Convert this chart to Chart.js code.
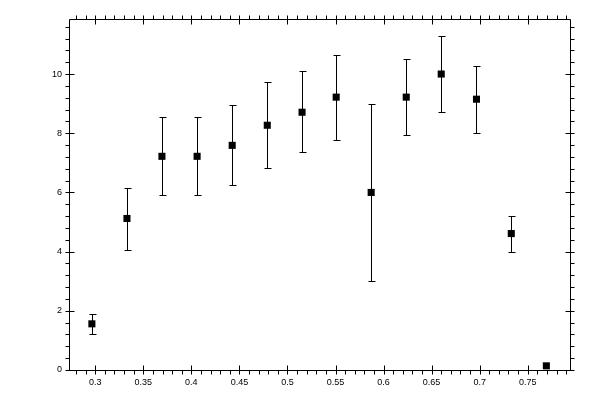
<!DOCTYPE html>
<html>
<head>
<meta charset="utf-8">
<script src="https://cdn.jsdelivr.net/npm/chart.js@4"></script>
<style>
html,body{margin:0;padding:0;background:#fff;}
canvas{display:block;}
</style>
</head>
<body>
<canvas id="c" width="600" height="400"></canvas>
<script>
// ---- data ----
const xValues = [0.2965, 0.333, 0.3694, 0.406, 0.4425, 0.479, 0.5152, 0.5507, 0.5871, 0.6236, 0.66, 0.6967, 0.7329, 0.7694];
const yValues = [1.56, 5.12, 7.22, 7.22, 7.59, 8.27, 8.71, 9.22, 6.00, 9.22, 10.00, 9.15, 4.61, 0.14];
const yUpper  = [1.89, 6.14, 8.54, 8.54, 8.95, 9.74, 10.10, 10.64, 8.98, 10.50, 11.28, 10.27, 5.22, 0.14];
const yLower  = [1.22, 4.07, 5.90, 5.90, 6.25, 6.81, 7.36, 7.76, 3.00, 7.93, 8.71, 8.00, 4.00, 0.14];

// ---- axes ----
const xMajorTicks = [0.3, 0.35, 0.4, 0.45, 0.5, 0.55, 0.6, 0.65, 0.7, 0.75];
const xTickLabels = ['0.3', '0.35', '0.4', '0.45', '0.5', '0.55', '0.6', '0.65', '0.7', '0.75'];
const yMajorTicks = [0, 2, 4, 6, 8, 10];
const yTickLabels = ['0', '2', '4', '6', '8', '10'];
const xRange = [0.2727, 0.794];
const yRange = [0, 11.86];
const xMinorStep = 0.01;
const yMinorStep = 0.4;

function buildTicks(min, max, step, majors) {
  const out = [];
  const n0 = Math.ceil(min / step - 1e-9), n1 = Math.floor(max / step + 1e-9);
  for (let i = n0; i <= n1; i++) {
    const v = +(i * step).toFixed(4);
    const isMajor = majors.some(m => Math.abs(m - v) < 1e-6);
    out.push({ value: v, major: isMajor });
  }
  return out;
}

const pts = xValues.map((x, i) => ({ x: x, y: yValues[i] }));

const frameTicks = {
  id: 'frameTicks',
  afterDraw(chart) {
    const ctx = chart.ctx;
    const a = chart.chartArea;
    const xs = chart.scales.x, ys = chart.scales.y;
    const L = Math.round(a.left) + 0.5, R = Math.round(a.right) + 0.5;
    const T = Math.round(a.top) + 0.5, B = Math.round(a.bottom) + 0.5;
    ctx.save();
    ctx.strokeStyle = '#000';
    ctx.lineWidth = 1;
    ctx.beginPath();
    ctx.rect(L, T, R - L, B - T);
    ctx.stroke();
    ctx.beginPath();
    xs.ticks.forEach(t => {
      const px = Math.round(xs.getPixelForValue(t.value)) + 0.5;
      const major = xMajorTicks.some(m => Math.abs(m - t.value) < 1e-6);
      // bottom
      ctx.moveTo(px, B + 4); ctx.lineTo(px, major ? B - 5 : B);
      // top
      ctx.moveTo(px, T - 4); ctx.lineTo(px, major ? T + 5 : T);
    });
    ys.ticks.forEach(t => {
      const py = Math.round(ys.getPixelForValue(t.value)) + 0.5;
      const major = yMajorTicks.some(m => Math.abs(m - t.value) < 1e-6);
      ctx.moveTo(L - 4, py); ctx.lineTo(major ? L + 5 : L, py);
      ctx.moveTo(R + 4, py); ctx.lineTo(major ? R - 5 : R, py);
    });
    ctx.stroke();
    ctx.restore();
  }
};

const errorBars = {
  id: 'errorBars',
  beforeDatasetsDraw(chart) {
    const ctx = chart.ctx;
    const xs = chart.scales.x, ys = chart.scales.y;
    ctx.save();
    ctx.strokeStyle = '#000';
    ctx.lineWidth = 1;
    ctx.beginPath();
    xValues.forEach((x, i) => {
      if (yUpper[i] === yLower[i]) return;
      const px = Math.round(xs.getPixelForValue(x)) + 0.5;
      const pu = Math.round(ys.getPixelForValue(yUpper[i])) + 0.5;
      const pl = Math.round(ys.getPixelForValue(yLower[i])) + 0.5;
      ctx.moveTo(px, pu); ctx.lineTo(px, pl);
      ctx.moveTo(px - 3, pu); ctx.lineTo(px + 4, pu);
      ctx.moveTo(px - 3, pl); ctx.lineTo(px + 4, pl);
    });
    ctx.stroke();
    ctx.restore();
  }
};

new Chart(document.getElementById('c'), {
  type: 'scatter',
  data: {
    datasets: [{
      data: pts,
      pointStyle: 'rect',
      pointRadius: 5,
      pointHoverRadius: 5,
      backgroundColor: '#000',
      borderColor: '#000',
      borderWidth: 0,
      showLine: false
    }]
  },
  options: {
    responsive: false,
    devicePixelRatio: 1,
    animation: false,
    events: [],
    layout: { padding: { top: 19, right: 30, left: 0, bottom: 0 } },
    plugins: { legend: { display: false }, tooltip: { enabled: false } },
    scales: {
      x: {
        type: 'linear',
        min: xRange[0], max: xRange[1],
        afterBuildTicks(s) { s.ticks = buildTicks(xRange[0], xRange[1], xMinorStep, xMajorTicks); },
        afterFit(s) { s.height = 30; },
        grid: { display: false, drawTicks: false },
        border: { display: false },
        ticks: {
          autoSkip: false, maxRotation: 0, padding: 7, color: '#000',
          font: { family: 'Liberation Sans', size: 9 },
          callback(v) {
            const k = xMajorTicks.findIndex(m => Math.abs(m - v) < 1e-6);
            return k >= 0 ? xTickLabels[k] : '';
          }
        }
      },
      y: {
        type: 'linear',
        min: yRange[0], max: yRange[1],
        afterBuildTicks(s) { s.ticks = buildTicks(yRange[0], yRange[1], yMinorStep, yMajorTicks); },
        afterFit(s) { s.width = 69; },
        grid: { display: false, drawTicks: false },
        border: { display: false },
        ticks: {
          autoSkip: false, padding: 7, color: '#000',
          font: { family: 'Liberation Sans', size: 9 },
          callback(v) {
            const k = yMajorTicks.findIndex(m => Math.abs(m - v) < 1e-6);
            return k >= 0 ? yTickLabels[k] : '';
          }
        }
      }
    }
  },
  plugins: [errorBars, frameTicks]
});
</script>
</body>
</html>
